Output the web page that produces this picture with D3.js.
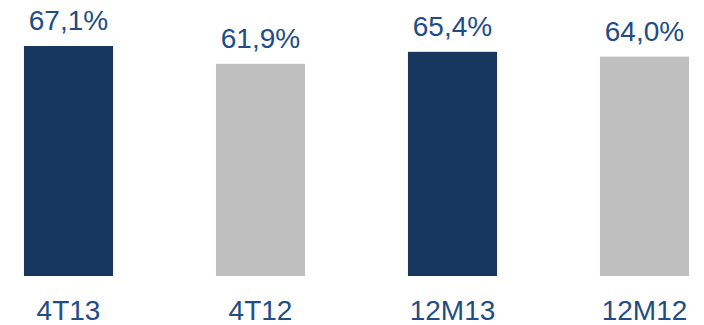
<!DOCTYPE html>
<html>
<head>
<meta charset="utf-8">
<script src="https://cdn.jsdelivr.net/npm/d3@7"></script>
<style>
  html, body { margin: 0; padding: 0; background: #ffffff; }
  svg { display: block; }
</style>
</head>
<body>
<svg id="chart" width="704" height="325"></svg>
<script>
// Margin by period: quarter and twelve-month figures
const categories = ["4T13", "4T12", "12M13", "12M12"];
const values = [67.1, 61.9, 65.4, 64.0];
const barColors = ["#17375E", "#BFBFBF", "#17375E", "#BFBFBF"];

const width = 704, height = 325;
const baseline = 276;

const svg = d3.select("#chart");

const x = d3.scaleBand()
  .domain(categories)
  .range([-27.5, 740.5])
  .paddingInner(0.536)
  .paddingOuter(0.268);

const y = d3.scaleLinear()
  .domain([0, 67.1])
  .range([baseline, 46]);

const fmt = v => d3.format(".1f")(v).replace(".", ",") + "%";
const textColor = "#214C86";
const font = "Liberation Sans, Arial, sans-serif";

svg.selectAll("rect.bar")
  .data(values)
  .join("rect")
  .attr("class", "bar")
  .attr("x", (d, i) => x(categories[i]))
  .attr("width", x.bandwidth())
  .attr("y", d => y(d))
  .attr("height", d => baseline - y(d))
  .attr("fill", (d, i) => barColors[i]);

svg.selectAll("text.value")
  .data(values)
  .join("text")
  .attr("class", "value")
  .attr("x", (d, i) => x(categories[i]) + x.bandwidth() / 2)
  .attr("y", d => y(d) - 16)
  .attr("text-anchor", "middle")
  .attr("font-family", font)
  .attr("font-size", 28)
  .attr("fill", textColor)
  .text(d => fmt(d));

// Category axis below the bars
const axis = d3.axisBottom(x).tickSize(0).tickPadding(0);
const g = svg.append("g")
  .attr("transform", `translate(0,${baseline})`)
  .call(axis);
g.select(".domain").remove();
g.selectAll("text")
  .attr("dy", null)
  .attr("y", 43.5)
  .attr("font-family", font)
  .attr("font-size", 28)
  .attr("fill", textColor);
</script>
</body>
</html>
